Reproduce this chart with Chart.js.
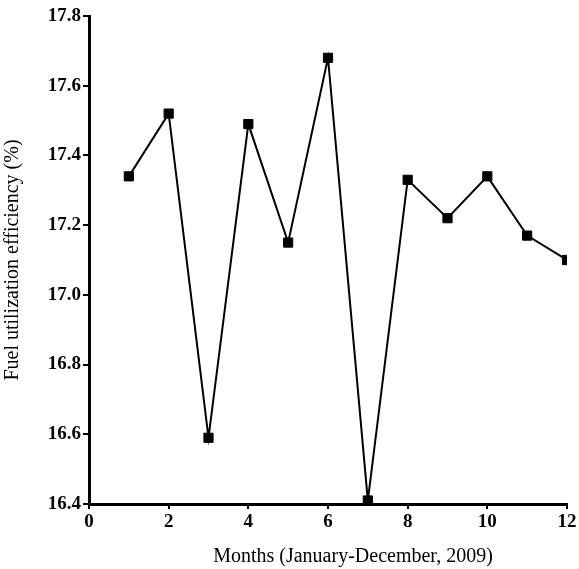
<!DOCTYPE html>
<html>
<head>
<meta charset="utf-8">
<script src="https://cdn.jsdelivr.net/npm/chart.js@4.4.1/dist/chart.umd.min.js"></script>
<style>
  html, body { margin: 0; padding: 0; background: #fff; }
  #wrap { width: 579px; height: 569px; }
</style>
</head>
<body>
<div id="wrap"><canvas id="canvas" width="579" height="569"></canvas></div>
<script>
// data
var months = [1, 2, 3, 4, 5, 6, 7, 8, 9, 10, 11, 12];
var efficiency = [17.34, 17.52, 16.59, 17.49, 17.15, 17.68, 16.41, 17.33, 17.22, 17.34, 17.17, 17.10];
var xTicks = [0, 2, 4, 6, 8, 10, 12];
var yTicks = [16.4, 16.6, 16.8, 17.0, 17.2, 17.4, 17.6, 17.8];
var xTitle = 'Months (January-December, 2009)';
var yTitle = 'Fuel utilization efficiency (%)';

var points = [];
for (var i = 0; i < months.length; i++) {
    points.push({x: months[i], y: efficiency[i]});
}

var serif = '"Liberation Serif", "Times New Roman", serif';
var tickFont = {family: serif, size: 19, weight: 'bold'};
var titleFont = {family: serif, size: 20, weight: 'normal'};

// x title sits a bit right of the plot centre in the original
var xTitlePlugin = {
    id: 'xTitle',
    afterDraw: function (chart) {
        var ctx = chart.ctx;
        var area = chart.chartArea;
        ctx.save();
        ctx.font = titleFont.size + 'px ' + serif;
        ctx.fillStyle = '#000';
        ctx.textAlign = 'center';
        ctx.textBaseline = 'middle';
        ctx.fillText(xTitle, (area.left + area.right) / 2 + 25, 557);
        ctx.restore();
    }
};

var config = {
    type: 'scatter',
    data: {
        datasets: [{
            data: points,
            showLine: true,
            borderColor: '#000',
            backgroundColor: '#000',
            borderWidth: 2,
            pointStyle: 'rect',
            pointRadius: 6.5,
            pointBorderWidth: 1,
            tension: 0
        }]
    },
    options: {
        responsive: false,
        animation: false,
        layout: {padding: {top: 16, right: 12, left: 0, bottom: 0}},
        plugins: {legend: {display: false}, tooltip: {enabled: false}},
        scales: {
            x: {
                type: 'linear',
                min: 0, max: 12,
                afterBuildTicks: function (scale) {
                    scale.ticks = xTicks.map(function (v) { return {value: v}; });
                },
                afterFit: function (scale) { scale.height = 65; },
                border: {color: '#000', width: 3},
                grid: {drawOnChartArea: false, drawTicks: true, tickLength: 5, color: '#000', lineWidth: 2},
                ticks: {color: '#000', font: tickFont, padding: 2, maxRotation: 0,
                    callback: function (v) { return v; }}
            },
            y: {
                min: 16.4, max: 17.8,
                afterBuildTicks: function (scale) {
                    scale.ticks = yTicks.map(function (v) { return {value: v}; });
                },
                afterFit: function (scale) { scale.width = 89; },
                border: {color: '#000', width: 3},
                grid: {drawOnChartArea: false, drawTicks: true, tickLength: 6, color: '#000', lineWidth: 2},
                ticks: {color: '#000', font: tickFont, padding: 2,
                    callback: function (v) { return v.toFixed(1); }},
                title: {display: true, text: yTitle, color: '#000',
                    font: titleFont, padding: {top: 1, bottom: 0}}
            }
        }
    },
    plugins: [xTitlePlugin]
};

window.onload = function () {
    var ctx = document.getElementById('canvas').getContext('2d');
    window.myLine = new Chart(ctx, config);
};
</script>
</body>
</html>
